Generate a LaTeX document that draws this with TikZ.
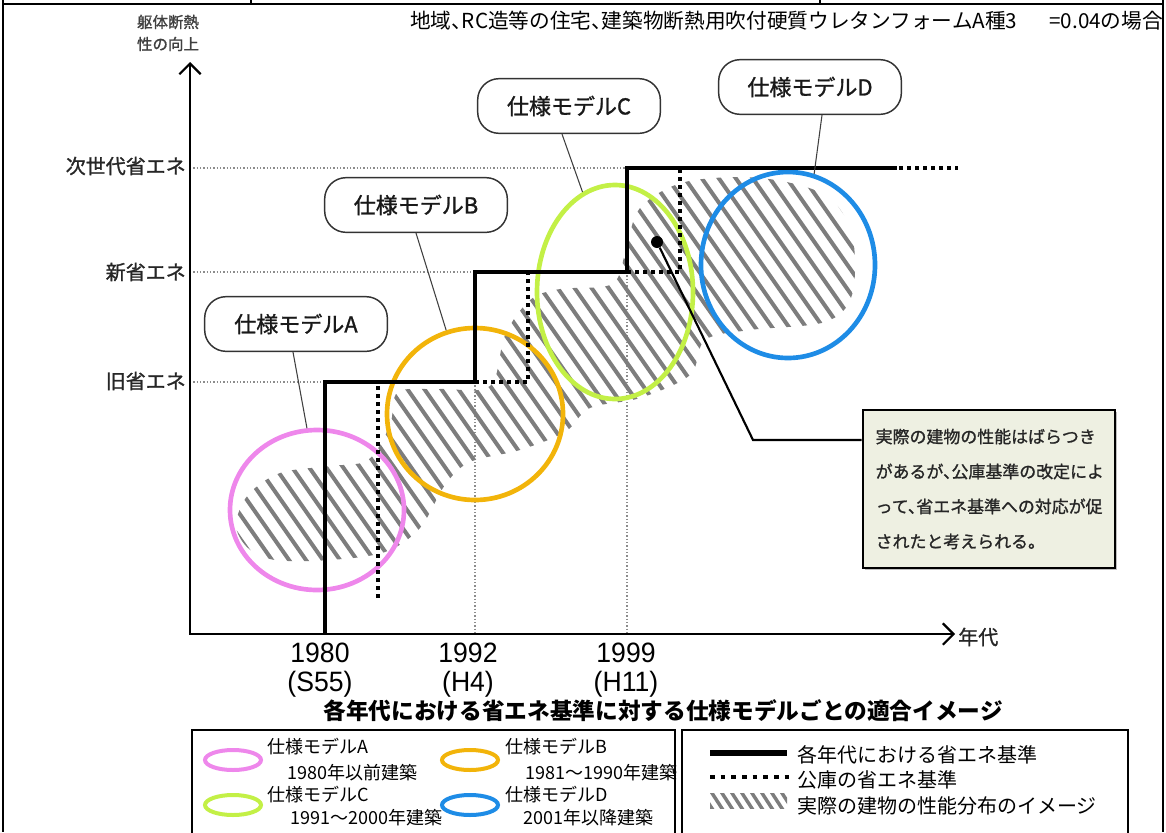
\documentclass[tikz,border=0pt]{standalone}
\usepackage{fontspec}
\newfontfamily\jp{Noto Sans CJK JP}
\newfontfamily\jph[RawFeature=+halt]{Noto Sans CJK JP}
\newfontfamily\jpfb[FakeBold=1.2]{Noto Sans CJK JP}
\newfontfamily\jpfbh[FakeBold=1.2,RawFeature=+halt]{Noto Sans CJK JP}
\newfontfamily\narrow[FakeStretch=0.95]{Liberation Sans}
\usetikzlibrary{shapes.geometric,calc,arrows.meta}
\definecolor{cpink}{RGB}{238,135,235}
\definecolor{corange}{RGB}{242,180,10}
\definecolor{cgreen}{RGB}{195,240,70}
\definecolor{cblue}{RGB}{30,140,230}
\definecolor{hatchgray}{RGB}{125,125,125}
\definecolor{boxfill}{RGB}{238,240,226}
\begin{document}
\begin{tikzpicture}[x=0.75pt,y=-0.75pt,
  callout/.style={draw=black!80, line width=1.1pt, rounded corners=16pt, fill=white,
    minimum width=137pt, minimum height=41pt, inner sep=0pt, text=black!90,
    font=\jpfb\fontsize{16.5pt}{18pt}\selectfont},
  ring/.style={ellipse, draw, line width=3.5pt, inner sep=0pt},
  lgring/.style={ellipse, draw, line width=3pt, inner sep=0pt, minimum width=42pt, minimum height=15pt},
  stepline/.style={line width=3pt},
  dotline/.style={line width=3pt, dash pattern=on 3pt off 3pt},
  refline/.style={black!45, line width=0.8pt, dash pattern=on 1pt off 1.5pt},
  hatchline/.style={hatchgray, line width=3pt},
  leader/.style={black!75, line width=0.8pt},
  ticklab/.style={anchor=east, inner sep=0pt, text=black!85, font=\jpfb\fontsize{15pt}{16pt}\selectfont},
  lgtext/.style={anchor=west, inner sep=0pt, font=\jp\fontsize{13.5pt}{15pt}\selectfont},
  lgtextr/.style={anchor=west, inner sep=0pt, font=\jp\fontsize{15pt}{16pt}\selectfont},
  yr/.style={inner sep=0pt, align=center, font=\narrow\fontsize{21pt}{21.5pt}\selectfont},
  axisline/.style={line width=1.6pt, {Straight Barb[length=8pt,width=16pt]}-{Straight Barb[length=8pt,width=16pt]}}
]
\useasboundingbox (0,0) rectangle (1166,832);
\clip (0,0) rectangle (1166,832);

% outer frame
\draw[line width=1.6pt] (3,0) -- (3,832);
\draw[line width=1.6pt] (1163,0) -- (1163,832);
\draw[line width=1.8pt] (3,4) -- (1163,4);
\draw[line width=1.4pt] (251,0) -- (251,4);
\draw[line width=1.4pt] (820,0) -- (820,4);

% header
\node[anchor=west, inner sep=0pt, font=\jph\fontsize{15.5pt}{17pt}\selectfont] (hdr) at (410,21)
  {地域、RC造等の住宅、建築物断熱用吹付硬質ウレタンフォームA種3\hspace{24pt}=0.04の場合};

% axis label
\node[inner sep=0pt, text=black!75, font=\jpfb\fontsize{11.6pt}{13pt}\selectfont] (yl1) at (168,22) {躯体断熱};
\node[inner sep=0pt, text=black!75, font=\jpfb\fontsize{11.6pt}{13pt}\selectfont] (yl2) at (168,44) {性の向上};

% reference dotted lines
\draw[refline] (190,168) -- (627,168);
\draw[refline] (190,272) -- (475,272);
\draw[refline] (190,382) -- (325,382);
\draw[refline] (475,382) -- (475,634);
\draw[refline] (627,272) -- (627,634);

% hatch band
\begin{scope}
\clip plot[smooth cycle, tension=0.55] coordinates {
 (236,525) (248,495) (280,473) (330,466) (368,460) (390,425) (398,392) (440,389) (490,386)
 (505,335) (530,300) (560,289) (612,284) (626,250) (640,208) (685,182) (760,178) (825,195)
 (852,235) (852,295) (825,322) (750,330) (705,340) (690,375) (640,398) (590,408) (565,432)
 (520,450) (470,462) (445,485) (420,528) (385,552) (330,560) (275,560) (248,548)};
\foreach \x in {-100,-83,...,900} \draw[hatchline] (\x,150) -- ++(350,500);
\end{scope}

% axes
\coordinate (O) at (190,634);
\coordinate (xend) at (955,634);
\coordinate (yend) at (190,62);
\draw[axisline] (yend) -- (O) -- (xend);
\node[anchor=west, inner sep=0pt, text=black!85, font=\jpfb\fontsize{15pt}{16pt}\selectfont] (xlab) at (958,637) {年代};

% tick labels
\node[ticklab] (t3) at (186,166) {次世代省エネ};
\node[ticklab] (t2) at (186,272) {新省エネ};
\node[ticklab] (t1) at (186,381) {旧省エネ};

% rings
\node[ring, draw=cpink, minimum width=130.5pt, minimum height=120pt] (cA) at (317,510) {};
\node[ring, draw=corange, minimum width=132pt, minimum height=129pt] (cB) at (475,414) {};
\node[ring, draw=cgreen, minimum width=117pt, minimum height=160.5pt] (cC) at (615,292) {};
\node[ring, draw=cblue, minimum width=130.5pt, minimum height=139.5pt] (cD) at (788,265) {};

% standards lines
\draw[stepline] (325,634) |- (475,382) |- (627,272) |- (897,168);
\draw[dotline] (378,598) -- (378,385);
\draw[dotline] (475,382) -| (528,274);
\draw[dotline] (627,272) -| (680,170);
\draw[dotline] (899,168) -- (958,168);

% callouts
\node[callout] (bA) at (296,324) {仕様モデルA};
\node[callout] (bB) at (416,205) {仕様モデルB};
\node[callout] (bC) at (569,106) {仕様モデルC};
\node[callout] (bD) at (810,87) {仕様モデルD};
\draw[leader] ($(bA.south)+(-3,0)$) -- (cA.97);
\draw[leader] (bB.south) -- (cB.109);
\draw[leader] ($(bC.south)+(-7,0)$) -- (cC.108);
\draw[leader] ($(bD.south)+(12,0)$) -- (cD.74);

% note box
\node[fill=black!25, minimum width=189pt, minimum height=118.5pt] at (991,491) {};
\node[draw, line width=2pt, fill=boxfill, minimum width=189pt, minimum height=118.5pt,
  text width=170pt, align=left, inner sep=0pt, text=black!85,
  font=\jpfbh\fontsize{12.7pt}{26.2pt}\selectfont] (tbox) at (989,489)
  {実際の建物の性能はばらつき\\があるが、公庫基準の改定によ\\って、省エネ基準への対応が促\\されたと考えられる。};
\node[circle, fill=black, minimum size=9pt, inner sep=0pt] (dot) at (657,242) {};
\coordinate (bend) at (753,440);
\draw[line width=1.6pt] (dot) -- (bend) -- (bend -| tbox.west);

% years
\node[yr] (y1980) at (320,670) {1980\\(S55)};
\node[yr] (y1992) at (468,670) {1992\\(H4)};
\node[yr] (y1999) at (626,670) {1999\\(H11)};

% caption
\node[inner sep=0pt, font=\jp\bfseries\fontsize{17pt}{18pt}\selectfont] (cap) at (663,711)
  {各年代における省エネ基準に対する仕様モデルごとの適合イメージ};

% legend left
\draw[line width=1.6pt] (192,840) |- (675,730) -- (675,840);
\node[lgring, draw=cpink] (lA) at (233,760) {};
\node[lgring, draw=corange] (lB) at (470,760) {};
\node[lgring, draw=cgreen] (lC) at (233,805) {};
\node[lgring, draw=cblue] (lD) at (470,805) {};
\node[lgtext] (lAt) at (267,747) {仕様モデルA};
\node[lgtext] (lAy) at (287,773) {1980年以前建築};
\node[lgtext] (lBt) at (505,747) {仕様モデルB};
\node[lgtext] (lBy) at (525,773) {1981～1990年建築};
\node[lgtext] (lCt) at (267,795) {仕様モデルC};
\node[lgtext] (lCy) at (290,818) {1991～2000年建築};
\node[lgtext] (lDt) at (505,795) {仕様モデルD};
\node[lgtext] (lDy) at (523,818) {2001年以降建築};

% legend right
\draw[line width=1.6pt] (682,840) |- (1128,730) -- (1128,840);
\draw[line width=4pt] (710,753) -- (787,753);
\draw[line width=3.5pt, dash pattern=on 3.5pt off 4.5pt] (710,777) -- (789,777);
\begin{scope}
\clip (710,793) rectangle (787,808);
\foreach \x in {690,700,...,790} \draw[hatchgray, line width=2.6pt] (\x,790) -- ++(13,20);
\end{scope}
\node[lgtextr] (r1) at (797,755) {各年代における省エネ基準};
\node[lgtextr] (r2) at (797,780) {公庫の省エネ基準};
\node[lgtextr] (r3) at (797,806) {実際の建物の性能分布のイメージ};
\end{tikzpicture}
\end{document}
